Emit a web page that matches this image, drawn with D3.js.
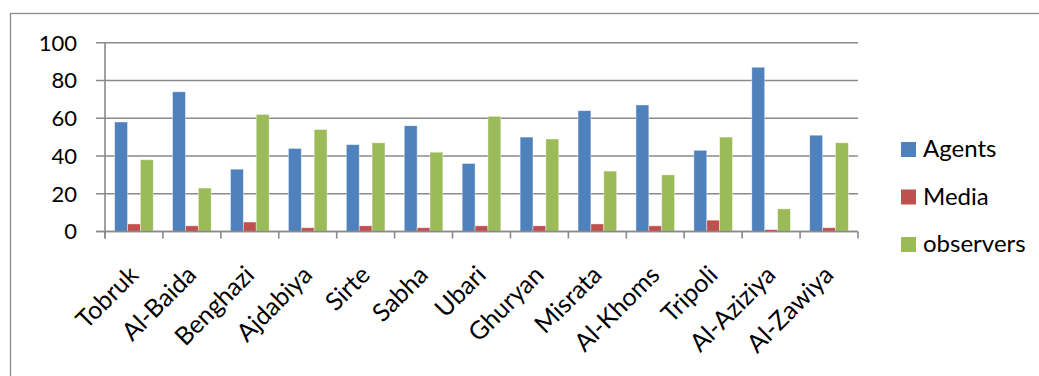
<!DOCTYPE html>
<html>
<head>
<meta charset="utf-8">
<script src="https://cdn.jsdelivr.net/npm/d3@7"></script>
<style>
  html, body { margin: 0; padding: 0; background: #fff; }
  svg { display: block; font-family: Lato, "Noto Sans", sans-serif; }
</style>
</head>
<body>
<svg id="chart" width="1039" height="376"></svg>
<script>
// Cities and counts per group
const cities = ["Tobruk", "Al-Baida", "Benghazi", "Ajdabiya", "Sirte", "Sabha", "Ubari",
  "Ghuryan", "Misrata", "Al-Khoms", "Tripoli", "Al-Aziziya", "Al-Zawiya"];
const agents    = [58, 74, 33, 44, 46, 56, 36, 50, 64, 67, 43, 87, 51];
const media     = [4, 3, 5, 2, 3, 2, 3, 3, 4, 3, 6, 1, 2];
const observers = [38, 23, 62, 54, 47, 42, 61, 49, 32, 30, 50, 12, 47];
const seriesNames = ["Agents", "Media", "observers"];
const yTicks = [0, 20, 40, 60, 80, 100];

const colors = ["#4F81BD", "#C0504D", "#9BBB59"];
const seriesValues = [agents, media, observers];

const svg = d3.select("#chart");
const plot = { left: 105, right: 858, top: 42.7, bottom: 231.5 };
const gridColor = "#8a8a8a";

// Outer chart frame
svg.append("rect")
  .attr("x", 10.5).attr("y", 13.5)
  .attr("width", 1040).attr("height", 400)
  .attr("fill", "none").attr("stroke", gridColor).attr("stroke-width", 1.3);

const x0 = d3.scaleBand().domain(cities).range([plot.left, plot.right]).paddingInner(0).paddingOuter(0);
// Three bars per city with a 150% gap between clusters
const x1 = d3.scaleBand().domain(seriesNames)
  .range([0, x0.bandwidth()]).paddingInner(0).paddingOuter(0.75);
const y = d3.scaleLinear().domain([0, 100]).range([plot.bottom, plot.top]);

// Horizontal gridlines with short outward ticks
svg.append("g").selectAll("line").data(yTicks).join("line")
  .attr("x1", plot.left - 9).attr("x2", plot.right)
  .attr("y1", d => y(d)).attr("y2", d => y(d))
  .attr("stroke", gridColor).attr("stroke-width", 1.6);

// Y axis labels
svg.append("g").selectAll("text").data(yTicks).join("text")
  .attr("x", 77).attr("y", d => y(d))
  .attr("dy", "0.36em")
  .attr("text-anchor", "end")
  .attr("font-size", 22)
  .attr("fill", "#000")
  .text(d => d);

// Vertical axis line
svg.append("line")
  .attr("x1", plot.left).attr("x2", plot.left)
  .attr("y1", plot.top).attr("y2", plot.bottom + 7)
  .attr("stroke", gridColor).attr("stroke-width", 1.6);

// Category boundary ticks
const boundaries = cities.map(c => x0(c)).concat([plot.right]);
svg.append("g").selectAll("line").data(boundaries).join("line")
  .attr("x1", d => d).attr("x2", d => d)
  .attr("y1", plot.bottom).attr("y2", plot.bottom + 7)
  .attr("stroke", gridColor).attr("stroke-width", 1.6);

// Bars
const groups = svg.append("g").selectAll("g").data(cities).join("g")
  .attr("transform", d => `translate(${x0(d)},0)`);
groups.selectAll("rect")
  .data((c, i) => seriesNames.map((s, k) => ({ s, k, v: seriesValues[k][i] })))
  .join("rect")
  .attr("x", d => x1(d.s))
  .attr("y", d => y(d.v))
  .attr("width", x1.bandwidth())
  .attr("height", d => y(0) - y(d.v))
  .attr("fill", d => colors[d.k])
  .attr("stroke", "rgba(255,255,255,0.5)")
  .attr("stroke-width", 0.8);

// Baseline drawn over the bars
svg.append("line")
  .attr("x1", plot.left - 9).attr("x2", plot.right)
  .attr("y1", y(0)).attr("y2", y(0))
  .attr("stroke", gridColor).attr("stroke-width", 1.6);

// Rotated category labels
svg.append("g").selectAll("text").data(cities).join("text")
  .attr("transform", d => `translate(${x0(d) + x0.bandwidth() / 2 + 6},${plot.bottom + 45}) rotate(-45)`)
  .attr("text-anchor", "end")
  .attr("font-size", 25)
  .attr("fill", "#000")
  .text(d => d);

// Legend
const legend = svg.append("g").selectAll("g").data(seriesNames).join("g")
  .attr("transform", (d, i) => `translate(901,${142 + i * 47.5})`);
legend.append("rect")
  .attr("width", 15).attr("height", 15)
  .attr("fill", (d, i) => colors[i]);
legend.append("text")
  .attr("x", 22).attr("y", 15)
  .attr("font-size", 24)
  .attr("fill", "#000")
  .text(d => d);
</script>
</body>
</html>
